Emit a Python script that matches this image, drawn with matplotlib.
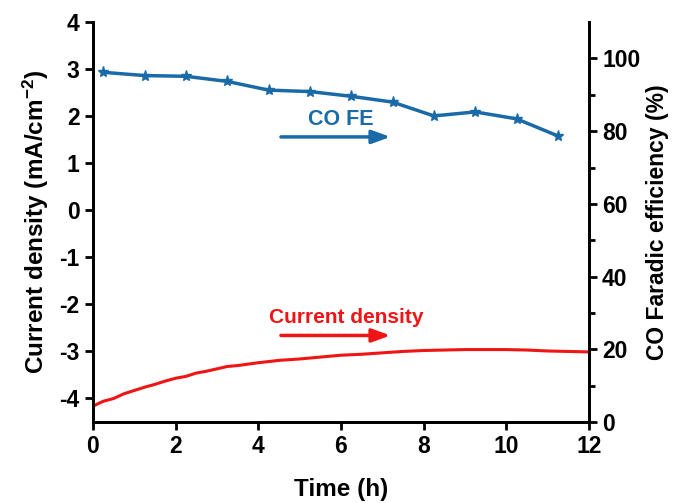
import matplotlib
matplotlib.use("Agg")
import matplotlib.pyplot as plt
import numpy as np

plt.rcParams['font.family'] = ['Liberation Sans', 'DejaVu Sans']
plt.rcParams['font.weight'] = 'bold'
plt.rcParams['axes.unicode_minus'] = False
plt.rcParams['mathtext.fontset'] = 'custom'
plt.rcParams['mathtext.rm'] = 'Liberation Sans:bold'
plt.rcParams['mathtext.default'] = 'rm'

# Data
time_fe = [0.25, 1.25, 2.25, 3.25, 4.25, 5.25, 6.25, 7.25, 8.25, 9.25, 10.25, 11.25]
co_fe = [96.2, 95.3, 95.1, 93.7, 91.3, 90.9, 89.6, 88.0, 84.2, 85.3, 83.4, 78.7]

time_j = [0.0, 0.1, 0.25, 0.5, 0.75, 1.0, 1.25, 1.5, 1.75, 2.0, 2.25, 2.5, 2.75, 3.0,
          3.25, 3.5, 3.75, 4.0, 4.5, 5.0, 5.5, 6.0, 6.5, 7.0, 7.5, 8.0, 8.5, 9.0,
          9.5, 10.0, 10.5, 11.0, 11.5, 12.0]
current = [-4.17, -4.12, -4.06, -4.00, -3.90, -3.83, -3.76, -3.70, -3.63, -3.57, -3.53,
           -3.46, -3.42, -3.37, -3.32, -3.30, -3.27, -3.24, -3.19, -3.16, -3.12, -3.08,
           -3.06, -3.03, -3.00, -2.98, -2.97, -2.96, -2.96, -2.96, -2.97, -2.99, -3.00, -3.01]

blue = '#1a6aa8'
red = '#f01414'

fig = plt.figure(figsize=(6.73, 5.03), dpi=100)
ax = fig.add_axes([0.138, 0.161, 0.737, 0.795])
ax2 = ax.twinx()

ax.plot(time_j, current, color=red, lw=2.2)
ax2.plot(time_fe, co_fe, color=blue, lw=2.5, marker='*', ms=8)

ax.set_xlim(0, 12)
ax.set_ylim(-4.5, 4)
ax2.set_ylim(0, 110)
ax.set_xticks(range(0, 13, 2))
ax.set_yticks(range(-4, 5))
ax2.set_yticks(range(0, 101, 20))
ax2.set_yticks(range(10, 101, 20), minor=True)

for a in (ax, ax2):
    a.spines['top'].set_visible(False)
    for s in a.spines.values():
        s.set_linewidth(2)
    a.tick_params(which='major', direction='out', length=6, width=2, labelsize=16.5)
    a.tick_params(which='minor', direction='out', length=4, width=2)

ax.set_xlabel('Time (h)', fontsize=17.5, fontweight='bold', labelpad=14)
ax.set_ylabel('Current density (mA/cm$^{-2}$)', fontsize=17.5, fontweight='bold', labelpad=6)
ax2.set_ylabel('CO Faradic efficiency (%)', fontsize=16.5, fontweight='bold', labelpad=4)

arrow_props = dict(arrowstyle='-|>,head_length=1.1,head_width=0.4', lw=2.5, shrinkA=0, shrinkB=0)
ax.annotate('', xy=(7.2, 1.56), xytext=(4.55, 1.56),
            arrowprops=dict(color=blue, **arrow_props))
ax.text(6.0, 1.94, 'CO FE', color=blue, fontsize=15.5, fontweight='bold', ha='center', va='center')

ax.annotate('', xy=(7.2, -2.66), xytext=(4.55, -2.66),
            arrowprops=dict(color=red, **arrow_props))
ax.text(6.12, -2.27, 'Current density', color=red, fontsize=15, fontweight='bold', ha='center', va='center')

fig.savefig('out.png', dpi=100)
